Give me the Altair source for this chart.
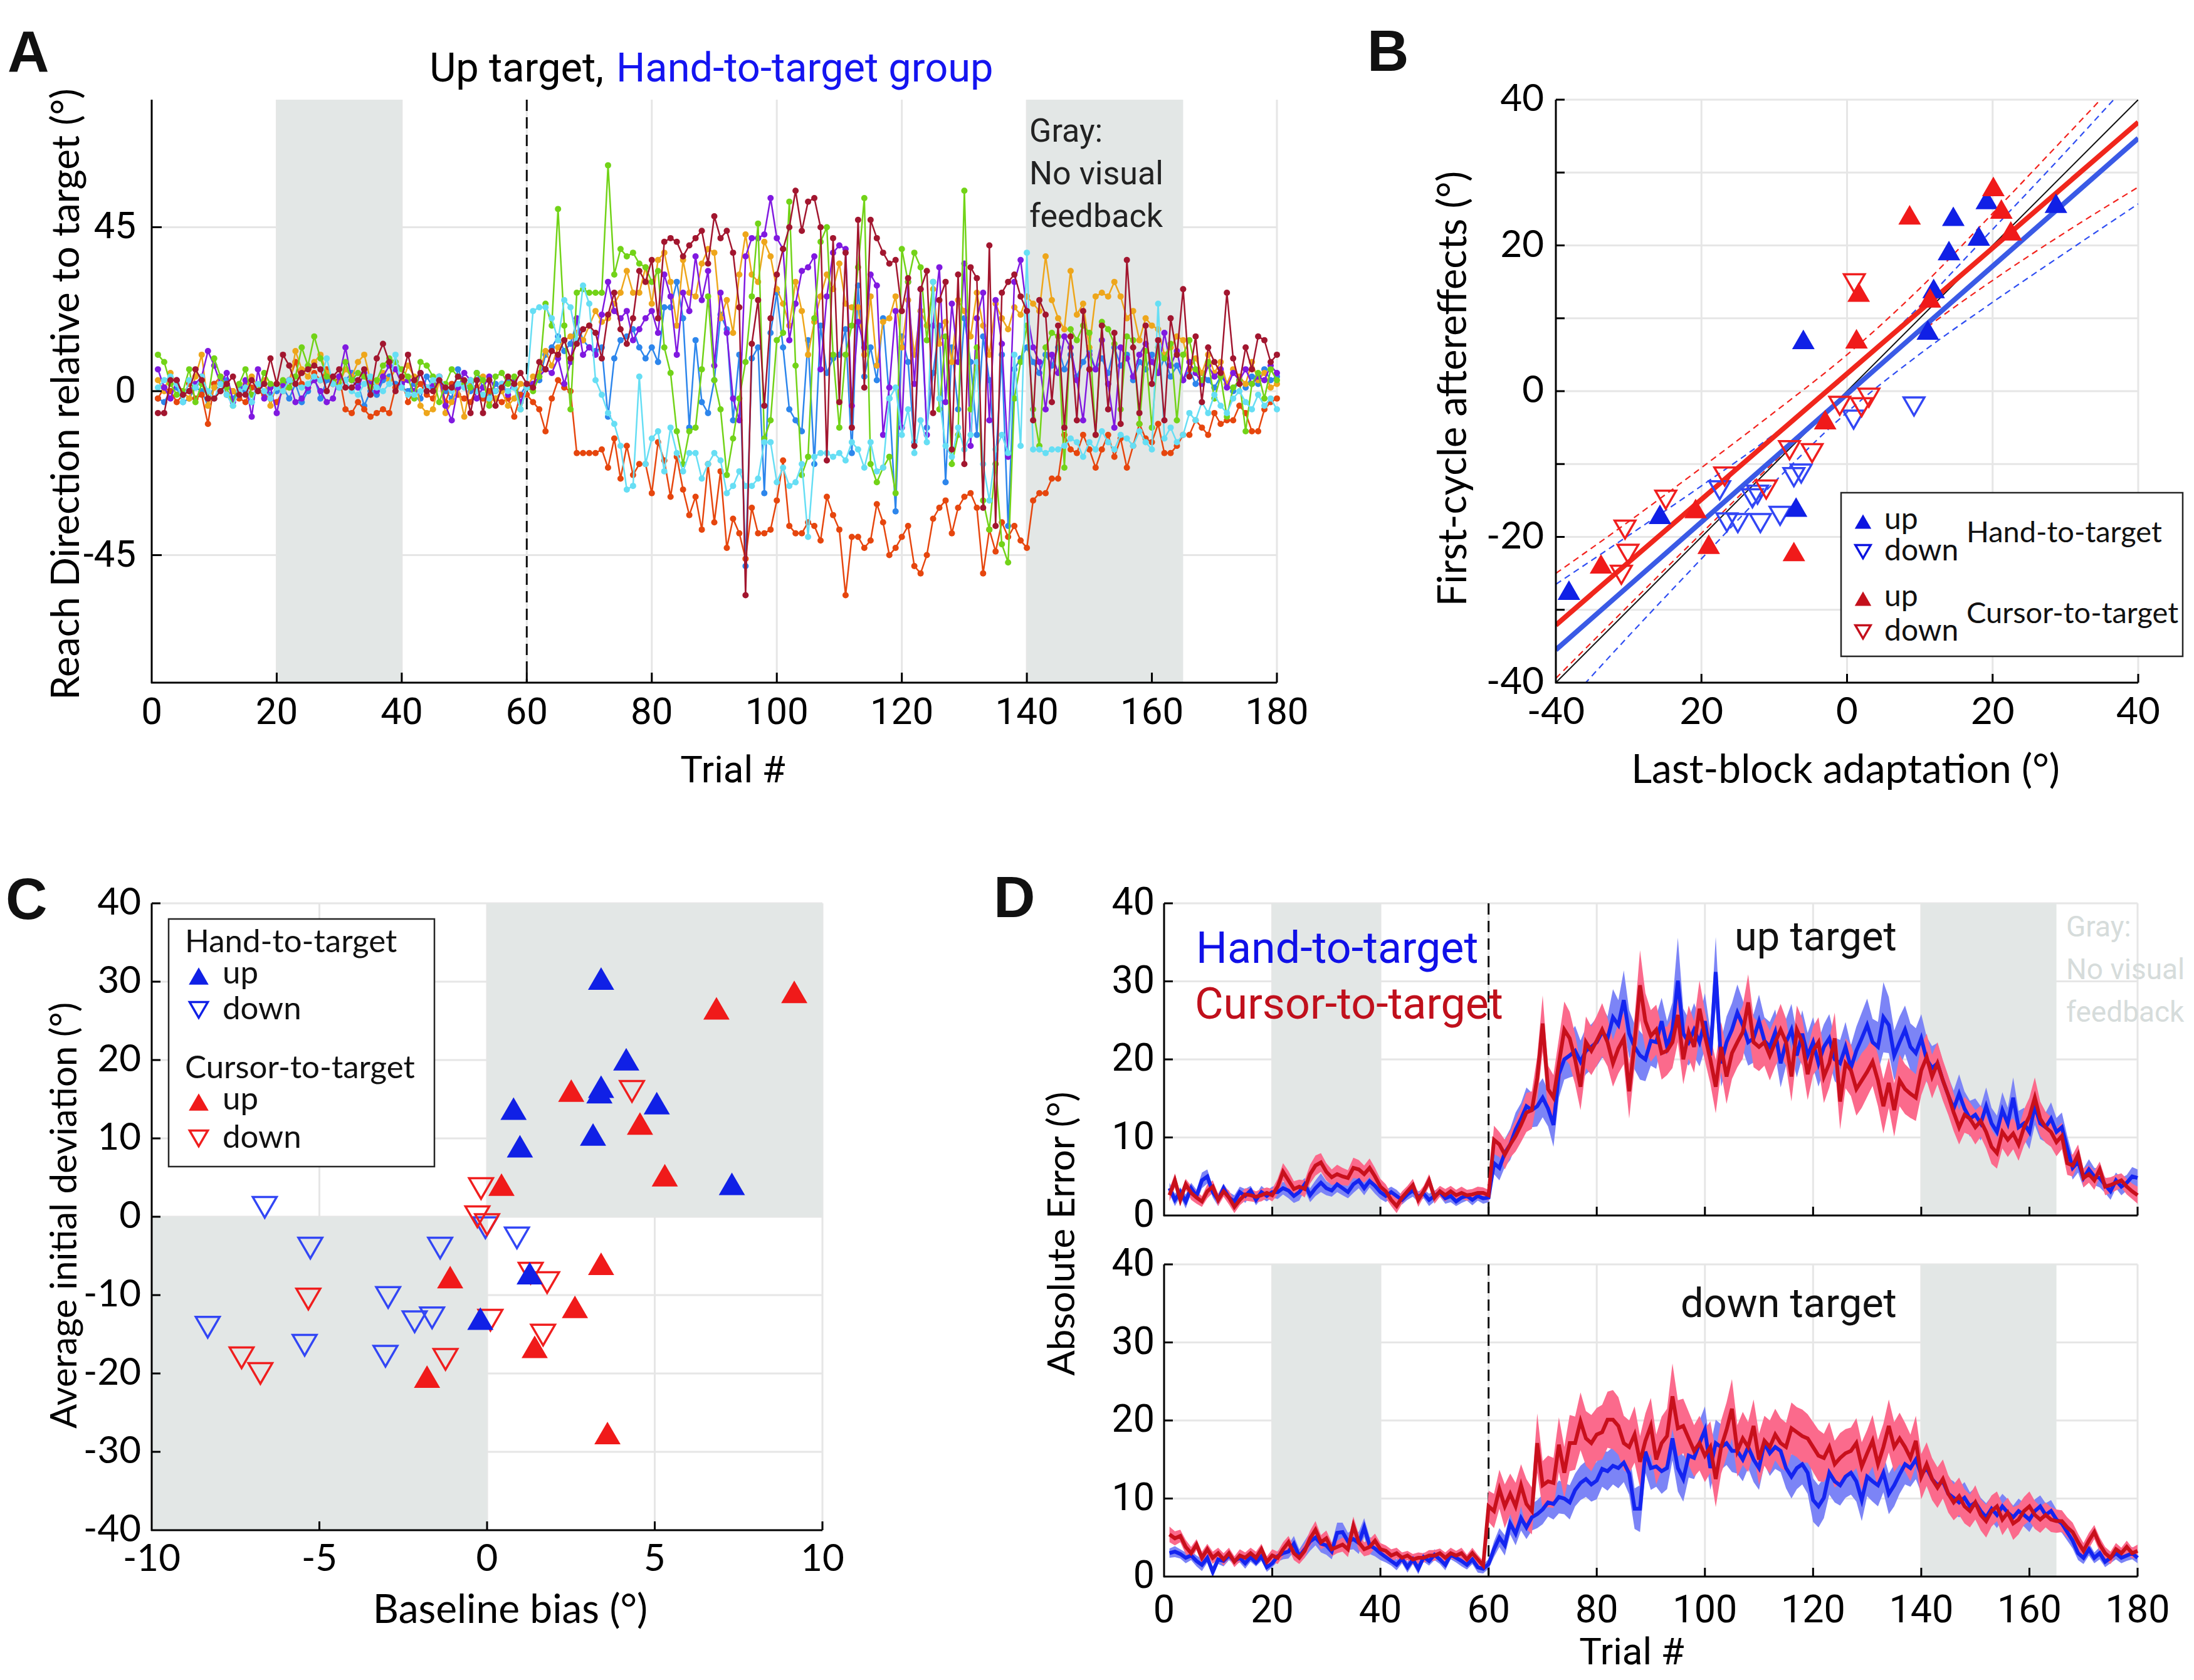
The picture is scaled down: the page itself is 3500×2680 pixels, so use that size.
import altair as alt
import pandas as pd

# ------------------------------------------------------------------ data
TRIALS = list(range(1, 181))

# Panel A: reach direction per trial, 7 participants (up target, hand-to-target group)
A_BLUE = [
    -2, -3, 0, 1, -3, -2, 1, 0, -4, 2,
    0, 3, -2, 1, 0, -3, 1, 2, -1, 0,
    1, -2, 2, -3, 0, 4, -2, 3, 2, 1,
    3, 5, 2, -4, 0, -1, 3, 4, 2, 1,
    0, 2, -2, 4, 1, 3, 0, -2, 6, 2,
    0, 5, 1, -1, 2, 0, 3, 1, -1, 2,
    2, 3, 10, 12, 15, 11, 13, 19, 14, 12,
    11, 12, -7, 9, 14, 15, 17, 12, 9, 12,
    8, 23, 23, 30, 20, -10, 14, -3, -6, 3,
    21, 17, -8, 10, -48, 9, 12, -28, 16, 27,
    12, -5, -8, -11, 14, -20, 18, 5, 9, 10,
    17, -17, 29, 4, 12, 3, 20, -2, -33, 15,
    8, -14, 22, -10, 5, 18, -25, 12, -5, 20,
    8, -12, 15, 3, -20, 10, -37, 6, 9, 12,
    8, 5, 10, 7, 12, 6, 10, 4, 8, 11,
    6, 9, 5, 12, 7, 10, 3, 8, 6, 10,
    5, 9, 4, 7, 3, 6, 2, 5, 3, 1,
    4, 2, 0, 3, 1, 4, 2, 6, 3, 4,
]
A_ORANGE = [
    -2, 1, 0, -3, -1, 2, -2, -1, -9, 2,
    4, -1, 0, -2, -3, 1, 0, -1, -2, -3,
    0, 3, 8, 2, 1, 5, 3, 6, 2, 4,
    -5, -6, -3, -5, -7, -6, -5, -6, 1, 3,
    -3, 0, 2, -1, -2, 4, -3, 2, -1, -2,
    -3, 1, -2, 0, -2, -3, -2, -7, -1, -1,
    -3, -5, -11, -2, 3, 1, 0, -17, -17, -17,
    -17, -16, -21, -13, -24, -15, -23, -20, -20, -28,
    -14, -19, -29, -18, -27, -34, -29, -38, -20, -36,
    -22, -43, -35, -39, -46, -32, -39, -39, -38, -30,
    -19, -37, -39, -39, -36, -37, -41, -29, -34, -38,
    -56, -40, -40, -43, -41, -31, -36, -45, -43, -40,
    -37, -48, -50, -45, -35, -32, -30, -39, -32, -29,
    -28, -32, -50, -38, -44, -36, -40, -37, -41, -43,
    -30, -28, -28, -24, -24, -12, -16, -17, -12, -16,
    -21, -16, -12, -18, -13, -21, -15, -9, -13, -14,
    -9, -17, -17, -15, -12, -12, -8, -10, -12, -6,
    -9, -8, -8, -4, -6, -11, -11, -5, -3, -2,
]
A_YELLOW = [
    3, 0, 5, 2, 0, -2, 4, 10, -4, 1,
    3, 2, 0, -1, 2, 4, 1, 3, -4, 2,
    0, 1, 11, 6, 4, 8, 10, 5, 3, 2,
    6, 4, 8, 10, 3, 2, 5, 3, 6, 2,
    7, 4, -4, -6, -5, 3, -6, -3, 1, -7,
    2, 0, 4, -3, -2, 0, -4, -2, 2, 1,
    4, 5, 11, 7, 12, 14, 15, 16, 14, 18,
    22, 19, 20, 24, 27, 33, 27, 27, 34, 24,
    36, 38, 30, 18, 36, 27, 26, 35, 39, 38,
    20, 25, 16, 32, 43, 32, 30, 41, 37, 28,
    24, 18, 30, 22, 10, 19, 26, 32, 28, 35,
    24, 23, 23, 10, 26, 7, 19, 20, 26, 12,
    25, 10, 22, 18, 28, 13, 19, 8, 25, 22,
    15, 27, 18, 10, 24, 20, 17, 23, 21, 26,
    24, 22, 37, 25, 20, 17, 33, 21, 24, 12,
    26, 27, 26, 30, 26, 20, 22, 14, 20, 18,
    17, 10, 12, 15, 14, 6, 9, 5, 10, 5,
    8, 2, 6, 4, 2, 8, 3, 5, 1, 2,
]
A_PURPLE = [
    6, 1, -2, 3, -1, 0, 2, 4, 11, 7,
    2, 5, -3, -1, 3, -7, 6, -2, 1, -6,
    2, 3, -3, -2, 1, 3, 0, -3, -2, 4,
    12, 3, 1, 5, 2, 0, 4, 7, 6, 2,
    3, 0, 5, 1, 2, 4, -4, -8, 1, 5,
    3, -2, 1, 4, 0, 2, -1, 3, -3, 1,
    2, 4, 6, 5, 9, 2, 8, 20, 10, 12,
    10, 21, 30, 22, 20, 22, 14, 17, 20, 22,
    16, 32, 26, 10, 27, 22, 37, 25, 33, 7,
    27, 16, -2, -8, 37, 42, 42, 43, 53, 42,
    39, 14, 24, 33, 34, 37, 6, 26, 38, 40,
    39, -4, 19, 12, 32, 29, -12, 1, 22, -10,
    30, 2, 28, -12, 18, 34, -3, 24, 8, 35,
    -15, 20, 27, -8, 25, 13, -18, 30, 36, 22,
    12, 8, -5, 10, 5, 15, 12, 3, -8, 10,
    6, 14, 2, -10, 12, 9, 4, 10, 13, 8,
    5, 16, 7, 11, 3, 8, 5, 2, 7, 4,
    6, 1, 5, 3, 6, 2, 4, 3, 7, 5,
]
A_GREEN = [
    10, 8, 2, -1, 0, 6, -3, 2, -2, 9,
    4, 1, -4, 2, 6, -1, 0, 5, 2, 1,
    3, 1, 4, 12, 7, 15, 9, 4, 3, 1,
    8, 3, 5, 4, 1, 3, 7, 9, 8, 6,
    4, -2, 8, 7, 4, -3, 2, 6, 4, 2,
    1, 5, 3, -4, 4, 5, 2, 4, -5, 1,
    0, 4, 24, 18, 50, 18, -5, 27, 28, 27,
    27, 27, 62, 32, 39, 37, 38, 35, 34, 30,
    33, 12, 5, -11, -20, -11, -10, 6, 26, 3,
    -5, -23, -13, -2, 8, 26, 46, -13, -8, 14,
    16, 52, 7, -23, -18, 20, 41, 45, 10, -10,
    10, 18, 34, 53, -20, -25, -21, -18, -28, 39,
    30, 38, 34, 14, 30, -5, 15, -20, -12, 55,
    -5, 12, -30, -38, -20, -42, -47, -2, 8, 18,
    -5, -15, 12, 16, 15, -21, 17, 14, 18, 16,
    -12, 19, 17, 13, -5, 15, 14, -9, 11, -10,
    12, 9, 13, -8, 10, 14, 6, 3, 8, -2,
    4, -7, 1, 3, -11, 2, 5, -2, 6, 3,
]
A_CYAN = [
    1, 3, 4, 2, -3, 3, 1, 4, 0, -2,
    2, -1, -4, 0, 1, -3, 2, 0, -2, 1,
    0, 3, 2, 1, 2, 4, 3, 9, 2, 1,
    3, 0, -1, 2, 4, 1, 0, 2, 10, 1,
    -1, -1, 0, 1, 3, 4, 1, 0, 2, 1,
    3, 0, -1, -2, 0, 2, 0, 1, -5, 1,
    22, 23, 23, 20, 14, 25, 23, 14, 29, 24,
    3, -1, -6, -9, -15, -27, -26, 4, -20, -13,
    -11, -22, -10, -17, -22, -17, -17, -24, -20, -17,
    -19, -28, -26, -22, -26, -26, -24, -14, -14, -25,
    -21, -26, -25, -20, -40, -18, -17, -17, -18, -17,
    -19, -14, -16, -21, -14, -22, -21, -2, 1, -12,
    -5, -17, -8, -14, 30, -2, -15, -18, -10, -16,
    -12, 8, -20, -30, -16, -12, -17, 10, -15, 38,
    -16, -16, -17, -16, -16, -15, -13, -14, -18, -14,
    -16, -11, -14, -16, -12, -13, -15, -11, -14, -16,
    24, -13, -10, -14, -12, -6, -8, -3, -6, -1,
    -4, -6, -2, 0, -3, -5, -1, -4, -2, -5,
]
A_DARKRED = [
    -6, -6, 3, 3, -1, 0, 6, 3, -2, -2,
    0, 2, 4, -1, -1, 3, 0, 2, 9, 2,
    10, 7, 2, 5, 6, 7, 6, 0, 4, 6,
    1, 1, 3, 6, -1, 9, 13, 8, 0, 4,
    10, 3, 5, 0, 0, 3, 1, 1, 4, 3,
    -6, 3, -6, 3, -4, 1, 4, 2, 5, 2,
    1, 8, 6, 11, 10, 14, 9, 13, 17, 18,
    16, 9, 21, 27, 17, 13, 20, 33, 30, 36,
    20, 41, 42, 41, 37, 40, 42, 44, 35, 48,
    42, 44, 38, 23, -56, 13, 25, -4, 20, 32,
    39, 45, 55, 44, 52, 53, 45, -19, 42, -3,
    38, -10, 47, 1, 47, 42, 38, 35, 36, 22,
    31, -15, 28, 33, -6, 25, 30, -16, 32, -20,
    34, 31, -32, 40, -37, 27, 30, 32, 26, 22,
    -8, 25, 21, -3, 18, -10, 15, -8, 22, 6,
    -12, 18, -5, 16, -9, 36, 12, -6, 18, 2,
    14, -8, 20, 10, 28, 4, 15, -3, 12, 8,
    5, 27, 9, 2, 12, 6, 15, 14, 8, 10,
]
A_SERIES = [
    (A_BLUE, "#2d86ec"), (A_ORANGE, "#e6460e"), (A_YELLOW, "#eea61b"),
    (A_PURPLE, "#8019e0"), (A_GREEN, "#72d318"), (A_CYAN, "#66def4"),
    (A_DARKRED, "#a2162f"),
]
A_XTICKS = [0, 20, 40, 60, 80, 100, 120, 140, 160, 180]
A_XLABELS = ["0", "20", "40", "60", "80", "100", "120", "140", "160", "180"]
A_YTICKS = [-45, 0, 45]
A_YLABELS = ["-45", "0", "45"]

# Panel B: last-block adaptation (x) vs first-cycle aftereffects (y)
B_HU_X = [-38.2, -25.7, -6.0, -7.0, 11.9, 11.1, 14.0, 14.6, 18.1, 19.2, 28.7]
B_HU_Y = [-27.3, -16.9, 7.1, -15.9, 14.1, 8.4, 19.3, 24.0, 21.3, 26.3, 25.8]
B_HD_X = [-17.5, -16.5, -15.0, -13.0, -12.3, -11.9, -9.2, -7.3, -6.3, 0.9, 9.2]
B_HD_Y = [-13.6, -18.0, -18.1, -14.7, -14.2, -18.1, -17.1, -11.8, -11.3, -3.9, -2.1]
B_CU_X = [-33.8, -20.8, -19.0, -7.3, -3.0, 1.3, 1.6, 8.6, 11.4, 20.1, 21.2, 22.5]
B_CU_Y = [-23.7, -16.1, -21.0, -22.0, -3.9, 7.2, 13.6, 24.2, 12.8, 28.1, 25.0, 22.0]
B_CD_X = [-30.5, -30.1, -31.0, -24.9, -16.8, -11.1, -7.9, -4.8, -1.0, 2.0, 3.0, 1.0]
B_CD_Y = [-19.0, -22.3, -25.2, -14.9, -11.7, -13.5, -8.1, -8.5, -2.0, -2.2, -0.9, 14.8]
B_FIT_X = [-40, 40]
B_FIT_H = [-35.5, 34.7]
B_FIT_C = [-32.1, 36.9]
B_CI_X = [-40, -30, -20, -10, 0, 10, 20, 30, 40]
B_CI_H_HI = [-26.5, -19.8, -13.0, -5.9, 2.1, 11.7, 22.2, 32.8, 43.7]
B_CI_H_LO = [-44.5, -33.6, -23.0, -12.5, -2.9, 5.1, 12.2, 19.0, 25.7]
B_CI_C_HI = [-25.0, -17.9, -10.5, -2.9, 5.0, 14.1, 24.4, 34.9, 45.5]
B_CI_C_LO = [-39.4, -29.4, -19.5, -9.7, -0.3, 8.0, 15.2, 21.8, 28.0]
B_XTICKS = [-40, -20, 0, 20, 40]
B_XLABELS = ["-40", "20", "0", "20", "40"]      # as printed in the figure
B_YTICKS = [-40, -20, 0, 20, 40]
B_YLABELS = ["-40", "-20", "0", "20", "40"]

# Panel C: baseline bias (x) vs average initial deviation (y)
C_HU_X = [3.4, 4.15, 3.4, 3.35, 5.06, 0.79, 0.98, 3.16, 7.3, 1.27, -0.2]
C_HU_Y = [30.4, 20.1, 16.6, 15.9, 14.5, 13.8, 9.0, 10.5, 4.2, -7.2, -13.0]
C_HD_X = [-6.63, -5.27, -1.4, -0.05, 0.89, -2.95, -2.16, -1.64, -8.33, -5.44, -3.03]
C_HD_Y = [1.2, -4.0, -4.0, -1.4, -2.7, -10.3, -13.4, -12.9, -14.1, -16.4, -17.8]
C_CU_X = [9.16, 6.84, 2.51, 4.56, 5.3, 0.43, 3.4, -1.1, 2.62, 1.42, -1.79, 3.59]
C_CU_Y = [28.7, 26.6, 16.1, 11.9, 5.3, 4.1, -6.0, -7.7, -11.5, -16.6, -20.4, -27.6]
C_CD_X = [4.32, -0.18, -0.29, 0.0, 1.3, 1.79, 0.1, 1.67, -1.24, -5.33, -7.32, -6.76]
C_CD_Y = [16.0, 3.6, 0.0, -1.0, -7.2, -8.4, -13.2, -15.1, -18.2, -10.5, -18.0, -20.0]
C_XTICKS = [-10, -5, 0, 5, 10]
C_XLABELS = ["-10", "-5", "0", "5", "10"]
C_YTICKS = [-40, -30, -20, -10, 0, 10, 20, 30, 40]
C_YLABELS = ["-40", "-30", "-20", "-10", "0", "10", "20", "30", "40"]

# Panel D: absolute error, mean and s.e.m. per trial
D_UP_H = [
    3.5, 2.0, 3.0, 1.8, 3.5, 2.5, 4.5, 5.0, 3.0, 2.0,
    3.5, 2.3, 1.8, 3.0, 2.5, 3.2, 2.0, 3.0, 2.5, 3.0,
    3.0, 3.5, 3.2, 2.5, 3.0, 4.0, 2.6, 3.5, 4.2, 3.5,
    3.2, 4.0, 3.5, 3.0, 4.0, 4.5, 3.5, 4.4, 3.8, 3.0,
    2.5, 3.0, 2.5, 2.0, 2.7, 3.2, 2.4, 2.8, 2.0, 2.5,
    3.0, 2.2, 2.5, 1.8, 2.3, 2.5, 2.0, 2.5, 2.2, 2.3,
    6.7, 6.1, 8.0, 9.1, 11.0, 12.4, 14.0, 13.5, 14.0, 15.1,
    13.7, 11.6, 18.1, 20.0, 20.5, 21.1, 19.7, 21.1, 21.6, 22.2,
    23.5, 22.7, 25.4, 24.4, 27.6, 23.3, 21.6, 20.5, 20.0, 22.4,
    22.2, 24.9, 21.6, 23.8, 30.1, 23.3, 22.2, 23.8, 22.2, 24.9,
    20.5, 31.2, 19.5, 22.2, 23.8, 26.0, 24.4, 22.2, 22.7, 24.9,
    22.4, 21.6, 23.5, 19.5, 22.2, 23.8, 20.5, 23.3, 20.5, 22.2,
    19.5, 21.6, 22.7, 20.0, 19.5, 21.6, 18.9, 21.1, 22.7, 24.4,
    22.2, 21.6, 25.4, 24.4, 20.5, 22.2, 23.8, 21.6, 20.8, 22.7,
    20.0, 18.9, 19.5, 17.3, 15.4, 13.7, 15.6, 13.7, 12.4, 12.9,
    11.8, 14.0, 11.8, 10.7, 13.5, 11.8, 15.1, 11.3, 11.8, 10.7,
    14.0, 11.8, 11.3, 12.4, 10.7, 11.3, 8.6, 6.1, 6.9, 4.8,
    5.9, 5.0, 4.8, 3.9, 3.1, 4.5, 3.7, 4.2, 5.0, 4.8,
]
D_UP_H_SEM = [
    0.7, 0.8, 0.6, 0.9, 0.7, 0.8, 1.0, 0.9, 0.7, 0.8,
    0.6, 0.7, 0.8, 0.7, 0.9, 0.6, 0.7, 0.8, 0.7, 0.7,
    0.9, 0.8, 1.0, 0.9, 1.1, 0.8, 0.9, 1.0, 1.2, 0.9,
    0.8, 1.0, 0.9, 0.8, 1.1, 1.0, 0.9, 0.8, 1.0, 0.9,
    0.8, 0.7, 0.8, 0.6, 0.7, 0.8, 0.7, 0.6, 0.8, 0.7,
    0.6, 0.7, 0.8, 0.6, 0.7, 0.6, 0.7, 0.6, 0.7, 0.6,
    1.4, 1.6, 1.8, 2.0, 2.2, 2.0, 2.4, 2.2, 2.6, 2.5,
    2.3, 2.8, 3.0, 2.6, 2.8, 3.2, 2.7, 3.0, 2.9, 3.1,
    3.3, 2.8, 3.6, 3.2, 3.8, 3.0, 2.9, 3.1, 2.8, 3.2,
    3.4, 3.0, 3.3, 3.5, 5.5, 3.2, 3.0, 3.4, 3.1, 3.6,
    3.2, 4.5, 3.0, 3.3, 3.4, 3.6, 3.2, 3.0, 3.1, 3.4,
    3.0, 3.2, 2.9, 3.1, 3.0, 3.3, 2.8, 3.0, 2.9, 3.2,
    3.0, 2.9, 3.1, 2.8, 3.0, 3.2, 2.9, 3.1, 3.3, 3.4,
    3.0, 3.2, 4.5, 3.6, 3.2, 3.3, 3.1, 3.0, 3.2, 3.1,
    2.9, 2.8, 2.6, 2.5, 2.4, 2.3, 2.5, 2.2, 2.3, 2.1,
    2.2, 2.4, 2.0, 2.1, 2.3, 2.0, 2.6, 2.1, 2.0, 2.2,
    2.4, 2.0, 1.9, 2.1, 1.8, 1.9, 1.6, 1.5, 1.4, 1.2,
    1.3, 1.1, 1.2, 1.0, 1.1, 1.0, 1.1, 1.0, 1.2, 1.1,
]
D_UP_C = [
    2.6, 4.5, 2.0, 4.0, 2.9, 2.3, 1.8, 3.1, 3.7, 2.0,
    3.1, 2.3, 1.1, 2.0, 2.7, 2.6, 2.4, 2.6, 2.9, 2.6,
    3.7, 5.6, 4.5, 3.4, 3.7, 3.4, 5.3, 6.4, 6.8, 5.6,
    4.9, 5.3, 5.0, 4.8, 6.1, 5.9, 5.3, 6.1, 5.0, 3.7,
    3.1, 2.0, 1.2, 2.3, 3.1, 3.9, 2.0, 3.1, 4.5, 2.3,
    3.1, 2.6, 3.1, 2.6, 2.9, 2.6, 2.7, 2.9, 2.9, 2.6,
    9.7, 9.1, 7.8, 9.1, 10.2, 11.6, 13.2, 13.5, 17.6, 24.6,
    16.2, 15.1, 19.5, 23.8, 22.7, 20.0, 16.5, 22.2, 21.1, 22.4,
    23.8, 22.2, 19.5, 21.4, 22.7, 15.9, 22.2, 29.5, 24.9, 23.0,
    23.8, 20.8, 21.1, 22.2, 25.7, 20.0, 23.5, 21.6, 26.5, 23.0,
    20.0, 16.5, 21.6, 17.8, 20.8, 22.2, 23.5, 27.3, 22.2, 21.6,
    22.2, 20.5, 22.2, 23.8, 22.2, 17.8, 23.8, 22.2, 18.1, 21.1,
    22.2, 17.8, 19.5, 22.7, 14.6, 19.5, 18.6, 16.2, 17.3, 18.4,
    19.7, 17.3, 14.0, 17.0, 13.5, 17.3, 16.2, 15.6, 15.1, 18.6,
    20.3, 17.8, 19.5, 17.3, 15.4, 13.2, 11.3, 12.9, 12.4, 11.3,
    12.1, 10.7, 8.8, 8.0, 10.7, 9.7, 10.5, 9.1, 11.3, 12.7,
    15.1, 12.4, 11.3, 10.7, 9.4, 10.2, 6.7, 6.4, 7.8, 4.8,
    5.3, 4.5, 5.9, 3.7, 3.9, 4.2, 4.5, 3.7, 3.1, 2.6,
]
D_UP_C_SEM = [
    0.8, 0.9, 0.8, 0.7, 0.9, 0.8, 0.7, 0.9, 0.8, 0.8,
    0.7, 0.9, 0.8, 0.7, 0.8, 0.8, 0.7, 0.8, 0.7, 0.8,
    1.0, 1.1, 1.2, 1.0, 0.9, 1.1, 1.2, 1.3, 1.2, 1.1,
    1.0, 1.2, 1.1, 1.0, 1.3, 1.2, 1.1, 1.2, 1.1, 1.0,
    0.9, 0.8, 0.9, 0.8, 0.7, 0.8, 0.9, 0.7, 0.8, 0.8,
    0.7, 0.8, 0.7, 0.7, 0.8, 0.7, 0.7, 0.8, 0.7, 0.7,
    1.8, 1.6, 1.9, 1.7, 2.0, 2.2, 2.5, 2.4, 2.8, 3.6,
    3.0, 2.9, 3.2, 3.6, 3.4, 3.2, 3.0, 3.3, 3.1, 3.2,
    3.4, 3.1, 3.0, 3.2, 3.3, 3.5, 3.2, 4.5, 3.6, 3.3,
    3.2, 3.4, 3.1, 3.3, 3.5, 3.2, 3.4, 3.3, 3.6, 3.2,
    3.1, 3.4, 3.2, 3.5, 3.3, 3.2, 3.4, 3.6, 3.2, 3.1,
    3.0, 3.2, 3.1, 3.3, 3.0, 3.2, 3.1, 3.0, 3.3, 3.1,
    3.2, 3.4, 3.1, 3.3, 3.6, 3.2, 3.3, 3.4, 3.5, 3.2,
    3.1, 3.3, 3.5, 3.2, 3.4, 3.3, 3.2, 3.1, 3.0, 3.2,
    3.0, 2.8, 2.7, 2.6, 2.5, 2.4, 2.2, 2.3, 2.1, 2.2,
    2.0, 2.1, 2.2, 2.0, 2.1, 2.2, 2.0, 2.1, 2.3, 2.4,
    2.6, 2.2, 2.0, 1.9, 1.8, 1.7, 1.5, 1.4, 1.3, 1.2,
    1.1, 1.2, 1.0, 1.1, 1.0, 1.0, 0.9, 1.0, 1.0, 1.1,
]
D_DN_H = [
    3.0, 3.2, 2.9, 2.4, 2.7, 2.0, 1.5, 2.4, 0.6, 2.2,
    2.0, 2.7, 2.0, 2.4, 1.7, 2.5, 1.8, 2.6, 1.2, 1.7,
    2.6, 3.0, 3.2, 4.2, 2.6, 3.5, 4.5, 5.0, 4.2, 4.0,
    3.2, 5.6, 5.7, 4.5, 4.8, 4.3, 6.3, 4.0, 3.6, 3.0,
    2.5, 2.0, 1.5, 2.3, 1.2, 2.2, 1.0, 2.5, 2.0, 2.8,
    2.2, 1.5, 2.8, 2.4, 2.0, 1.5, 2.2, 1.2, 1.0, 1.6,
    3.5, 5.0, 4.0, 6.8, 5.5, 7.5, 6.3, 7.6, 8.0, 8.6,
    9.5, 9.3, 10.2, 10.0, 9.5, 11.1, 12.0, 12.5, 11.8, 12.3,
    13.8, 13.5, 14.2, 13.9, 14.6, 13.2, 8.7, 8.7, 16.0, 13.9,
    14.1, 13.5, 13.9, 17.7, 13.9, 12.5, 15.5, 15.2, 17.1, 18.8,
    13.9, 17.1, 16.6, 17.1, 16.1, 16.1, 15.0, 16.6, 15.0, 13.9,
    17.1, 15.8, 16.6, 16.1, 13.9, 12.8, 13.9, 14.4, 13.3, 9.8,
    9.0, 10.1, 13.3, 12.2, 11.7, 12.8, 13.3, 12.2, 9.8, 12.8,
    12.2, 11.7, 13.3, 10.6, 11.7, 13.1, 14.4, 13.9, 15.0, 13.1,
    13.9, 12.5, 11.7, 12.2, 10.6, 10.1, 9.5, 10.1, 9.0, 9.5,
    8.4, 7.6, 8.7, 7.9, 9.0, 8.2, 7.6, 8.4, 7.9, 7.3,
    8.4, 9.0, 7.9, 8.4, 7.3, 6.8, 5.7, 4.6, 3.0, 2.4,
    3.5, 2.4, 3.0, 1.9, 2.4, 3.0, 2.4, 2.7, 3.0, 2.4,
]
D_DN_H_SEM = [
    0.6, 0.7, 0.6, 0.7, 0.6, 0.7, 0.8, 0.6, 0.7, 0.6,
    0.7, 0.6, 0.5, 0.6, 0.7, 0.6, 0.5, 0.6, 0.6, 0.5,
    0.7, 0.8, 0.9, 1.0, 0.9, 1.1, 1.2, 1.0, 1.1, 1.2,
    1.0, 1.3, 1.2, 1.1, 1.3, 1.4, 1.2, 1.1, 1.0, 0.9,
    0.7, 0.6, 0.7, 0.6, 0.7, 0.6, 0.7, 0.6, 0.6, 0.7,
    0.6, 0.7, 0.6, 0.6, 0.7, 0.6, 0.6, 0.7, 0.6, 0.6,
    1.0, 1.2, 1.3, 1.4, 1.5, 1.6, 1.5, 1.7, 1.8, 1.9,
    1.8, 2.0, 2.1, 2.0, 2.2, 2.1, 2.2, 2.3, 2.2, 2.4,
    2.3, 2.5, 2.4, 2.6, 2.5, 2.7, 2.6, 3.0, 2.7, 2.8,
    2.6, 2.9, 2.7, 2.8, 3.0, 2.9, 2.8, 2.7, 2.9, 3.0,
    2.8, 3.0, 2.9, 2.8, 2.7, 2.9, 2.8, 2.7, 2.9, 2.8,
    2.7, 2.9, 2.8, 2.7, 2.6, 2.8, 2.7, 2.6, 2.7, 2.8,
    2.7, 2.6, 2.8, 2.7, 2.6, 2.7, 2.8, 2.6, 2.7, 2.5,
    2.6, 2.7, 2.5, 2.6, 2.7, 2.5, 2.6, 2.4, 2.5, 2.4,
    2.3, 2.2, 2.1, 2.2, 2.0, 2.1, 1.9, 2.0, 1.8, 1.9,
    1.7, 1.8, 1.6, 1.7, 1.6, 1.7, 1.5, 1.6, 1.5, 1.6,
    1.5, 1.4, 1.5, 1.4, 1.3, 1.2, 1.1, 1.0, 0.9, 0.8,
    0.8, 0.7, 0.8, 0.7, 0.7, 0.8, 0.7, 0.7, 0.8, 0.7,
]
D_DN_C = [
    5.4, 4.9, 5.2, 3.8, 3.0, 4.1, 2.4, 3.5, 2.4, 3.0,
    2.2, 3.0, 1.9, 2.7, 2.4, 3.0, 2.4, 3.5, 1.9, 2.7,
    2.4, 3.5, 4.4, 3.0, 2.4, 3.3, 4.9, 6.0, 4.4, 4.9,
    3.5, 3.8, 4.1, 3.5, 6.5, 4.4, 3.5, 3.8, 4.6, 3.5,
    3.3, 2.7, 3.0, 2.4, 2.7, 2.2, 2.4, 2.4, 2.7, 2.7,
    3.0, 2.4, 3.0, 2.7, 3.0, 2.2, 3.0, 2.2, 1.4, 9.0,
    8.4, 11.2, 9.0, 10.6, 9.0, 11.7, 9.3, 8.4, 17.1, 11.7,
    12.2, 12.0, 16.9, 13.3, 17.1, 17.1, 19.9, 17.7, 17.1, 18.2,
    18.5, 20.1, 20.1, 19.3, 17.1, 16.6, 18.2, 14.7, 17.4, 19.3,
    15.0, 17.1, 18.0, 23.1, 19.0, 19.3, 17.7, 16.1, 17.1, 15.5,
    16.6, 12.5, 16.6, 18.8, 21.5, 16.1, 17.7, 16.6, 19.3, 15.0,
    17.4, 16.6, 18.2, 17.1, 16.6, 19.0, 18.5, 18.0, 17.7, 16.6,
    15.5, 15.2, 16.6, 14.4, 15.2, 15.8, 16.1, 17.1, 14.1, 15.8,
    17.4, 14.4, 16.6, 19.3, 16.6, 17.7, 16.6, 15.2, 17.4, 12.8,
    14.4, 12.5, 11.4, 12.5, 10.6, 9.5, 10.3, 9.0, 8.4, 9.5,
    7.9, 7.1, 8.4, 9.0, 7.3, 8.2, 6.8, 7.3, 8.4, 9.0,
    7.9, 7.3, 7.9, 7.3, 7.1, 7.1, 6.3, 5.7, 4.4, 3.3,
    4.6, 5.7, 4.1, 3.0, 2.4, 3.5, 3.0, 3.8, 3.0, 3.3,
]
D_DN_C_SEM = [
    1.0, 0.9, 0.8, 0.9, 0.8, 0.7, 0.8, 0.7, 0.8, 0.7,
    0.8, 0.7, 0.7, 0.8, 0.7, 0.7, 0.8, 0.7, 0.7, 0.8,
    0.8, 0.9, 0.8, 0.9, 0.8, 0.9, 1.0, 1.1, 0.9, 1.0,
    0.9, 0.8, 0.9, 1.0, 1.2, 1.0, 0.9, 1.0, 0.9, 0.8,
    0.7, 0.8, 0.7, 0.7, 0.6, 0.7, 0.7, 0.6, 0.7, 0.7,
    0.6, 0.7, 0.7, 0.6, 0.7, 0.6, 0.7, 0.6, 0.6, 2.0,
    2.2, 2.5, 2.8, 2.6, 3.0, 2.7, 3.2, 3.0, 3.8, 3.1,
    3.3, 3.2, 3.5, 3.3, 3.6, 3.4, 3.7, 3.5, 3.6, 3.4,
    3.5, 3.6, 3.8, 3.7, 3.5, 3.4, 3.6, 3.3, 3.5, 3.6,
    3.2, 3.4, 3.5, 4.2, 3.6, 3.5, 3.4, 3.3, 3.5, 3.4,
    3.3, 3.6, 3.4, 3.5, 3.8, 3.3, 3.4, 3.2, 3.4, 3.3,
    3.2, 3.4, 3.3, 3.2, 3.1, 3.3, 3.2, 3.4, 3.1, 3.2,
    3.3, 3.1, 3.2, 3.0, 3.2, 3.1, 3.0, 3.2, 3.1, 3.0,
    3.3, 3.1, 3.0, 3.4, 3.2, 3.3, 3.1, 3.0, 3.2, 2.9,
    2.8, 2.7, 2.6, 2.5, 2.4, 2.3, 2.4, 2.2, 2.1, 2.2,
    2.0, 2.1, 2.0, 1.9, 2.0, 1.9, 2.1, 1.9, 1.8, 1.9,
    1.8, 1.7, 1.6, 1.6, 1.5, 1.4, 1.3, 1.2, 1.1, 1.0,
    1.0, 0.9, 0.9, 0.8, 0.8, 0.8, 0.7, 0.8, 0.7, 0.8,
]
D_XTICKS = [0, 20, 40, 60, 80, 100, 120, 140, 160, 180]
D_XLABELS = ["0", "20", "40", "60", "80", "100", "120", "140", "160", "180"]
D_YTICKS = [0, 10, 20, 30, 40]
D_YLABELS = ["0", "10", "20", "30", "40"]

for _lst in [s for s, _ in A_SERIES] + [D_UP_H, D_UP_H_SEM, D_UP_C, D_UP_C_SEM,
                                        D_DN_H, D_DN_H_SEM, D_DN_C, D_DN_C_SEM]:
    assert len(_lst) == 180, len(_lst)

# ------------------------------------------------------------------ style
FN = "Roboto"            # condensed-looking labels (panels A, D)
FW = "Lato"              # regular labels (panels B, C)
FB = "Liberation Sans"   # panel letters
BLACK = "#000000"
GRID = "#e6e6e6"
SHADE = "#e3e7e6"
ONE = pd.DataFrame({"k": [0]})


def sc(dom):
    return alt.Scale(domain=dom, nice=False, zero=False)


def text(s, x, y, size, font, color=BLACK, align="left", baseline="alphabetic",
         angle=None, weight="normal"):
    kw = dict(text=s, font=font, fontSize=size, color=color, align=align,
              baseline=baseline, fontWeight=weight)
    if angle is not None:
        kw["angle"] = angle
    return alt.Chart(ONE).mark_text(**kw).encode(x=alt.value(x), y=alt.value(y))


def vgrid(vals, dom, color=GRID):
    return alt.Chart(pd.DataFrame({"v": vals})).mark_rule(color=color, strokeWidth=3).encode(
        x=alt.X("v:Q", scale=sc(dom), axis=None))


def hgrid(vals, dom, color=GRID):
    return alt.Chart(pd.DataFrame({"v": vals})).mark_rule(color=color, strokeWidth=3).encode(
        y=alt.Y("v:Q", scale=sc(dom), axis=None))


def xticks(vals, dom, H, L=16):
    return alt.Chart(pd.DataFrame({"v": vals})).mark_rule(color=BLACK, strokeWidth=3).encode(
        x=alt.X("v:Q", scale=sc(dom), axis=None), y=alt.value(H), y2=alt.value(H - L))


def yticks(vals, dom, L=16):
    return alt.Chart(pd.DataFrame({"v": vals})).mark_rule(color=BLACK, strokeWidth=3).encode(
        y=alt.Y("v:Q", scale=sc(dom), axis=None), x=alt.value(0), x2=alt.value(L))


def xlabels(vals, labels, dom, H, pad, font, size):
    df = pd.DataFrame({"v": vals, "s": labels})
    return alt.Chart(df).mark_text(font=font, fontSize=size, color=BLACK, align="center",
                                   baseline="top").encode(
        x=alt.X("v:Q", scale=sc(dom), axis=None), y=alt.value(H + pad), text="s:N")


def ylabels(vals, labels, dom, pad, font, size):
    df = pd.DataFrame({"v": vals, "s": labels})
    return alt.Chart(df).mark_text(font=font, fontSize=size, color=BLACK, align="right",
                                   baseline="middle").encode(
        y=alt.Y("v:Q", scale=sc(dom), axis=None), x=alt.value(-pad), text="s:N")


def frame(W, H):
    left = alt.Chart(ONE).mark_rule(color=BLACK, strokeWidth=3).encode(
        x=alt.value(0), y=alt.value(0), y2=alt.value(H + 1))
    bottom = alt.Chart(ONE).mark_rule(color=BLACK, strokeWidth=3).encode(
        x=alt.value(-1), x2=alt.value(W), y=alt.value(H))
    return [left, bottom]


def xbands(starts, ends, dom, H):
    df = pd.DataFrame({"a": starts, "b": ends})
    return alt.Chart(df).mark_rect(color=SHADE).encode(
        x=alt.X("a:Q", scale=sc(dom), axis=None), x2="b:Q", y=alt.value(0), y2=alt.value(H))


def dashed_at(v, dom):
    return alt.Chart(pd.DataFrame({"v": [v]})).mark_rule(
        color="#111111", strokeWidth=3, strokeDash=[18, 10]).encode(
        x=alt.X("v:Q", scale=sc(dom), axis=None))


def tri(xs, ys, xdom, ydom, color, up, size):
    df = pd.DataFrame({"x": xs, "y": ys})
    if up:
        m = alt.Chart(df).mark_point(shape="triangle-up", filled=True, size=size,
                                     color=color, opacity=1, strokeWidth=0)
    else:
        m = alt.Chart(df).mark_point(shape="triangle-down", filled=False, size=size,
                                     color=color, opacity=1, strokeWidth=3.5)
    return m.encode(x=alt.X("x:Q", scale=sc(xdom), axis=None),
                    y=alt.Y("y:Q", scale=sc(ydom), axis=None))


def sym(x, y, color, up, size):
    if up:
        m = alt.Chart(ONE).mark_point(shape="triangle-up", filled=True, size=size,
                                      color=color, opacity=1, strokeWidth=0)
    else:
        m = alt.Chart(ONE).mark_point(shape="triangle-down", filled=False, size=size,
                                      color=color, opacity=1, strokeWidth=3.5)
    return m.encode(x=alt.value(x), y=alt.value(y))


def box(x0, y0, x1, y1):
    return alt.Chart(ONE).mark_rect(fill="white", stroke="#262626", strokeWidth=2.5).encode(
        x=alt.value(x0), x2=alt.value(x1), y=alt.value(y0), y2=alt.value(y1))


def line_xy(xs, ys, xdom, ydom, color, width, dash=None, interp="linear"):
    df = pd.DataFrame({"x": xs, "y": ys})
    kw = dict(color=color, strokeWidth=width, clip=True, interpolate=interp)
    if dash:
        kw["strokeDash"] = dash
    return alt.Chart(df).mark_line(**kw).encode(
        x=alt.X("x:Q", scale=sc(xdom), axis=None), y=alt.Y("y:Q", scale=sc(ydom), axis=None))


# ------------------------------------------------------------------ panel A
AW, AH = 1795, 930
AX, AY = [0, 180], [-80, 80]
a_layers = [
    # invisible anchor fixing the page origin
    alt.Chart(ONE).mark_rect(opacity=0).encode(
        x=alt.value(-229), x2=alt.value(-228), y=alt.value(-150), y2=alt.value(-149)),
    vgrid(A_XTICKS[1:], AX),
    hgrid(A_YTICKS, AY),
    xbands([20, 140], [40, 165], AX, AH),
    dashed_at(60, AX),
]
for vals, col in A_SERIES:
    df = pd.DataFrame({"t": TRIALS, "v": vals})
    base = alt.Chart(df).encode(x=alt.X("t:Q", scale=sc(AX), axis=None),
                                y=alt.Y("v:Q", scale=sc(AY), axis=None))
    a_layers += [base.mark_line(color=col, strokeWidth=2.5),
                 base.mark_circle(color=col, size=100, opacity=1)]
a_layers += frame(AW, AH) + [
    xticks(A_XTICKS[1:], AX, AH),
    yticks(A_YTICKS, AY),
    xlabels(A_XTICKS, A_XLABELS, AX, AH, 19, FN, 60),
    ylabels(A_YTICKS, A_YLABELS, AY, 25, FN, 60),
    text("Up target,", 721, -29, 65, FN, align="right"),
    text("Hand-to-target group", 741, -29, 65, FN, color="#1414f0"),
    text("Gray:", 1400, 67, 52, FN, color="#222222"),
    text("No visual", 1400, 135, 52, FN, color="#222222"),
    text("feedback", 1400, 203, 52, FN, color="#222222"),
    text("Reach Direction relative to target (°)", -135, 470, 62, FW,
         align="center", baseline="middle", angle=270),
    text("Trial #", 927, 1071, 60, FN, align="center", baseline="middle"),
    text("A", -230, -45, 92, FB, weight="bold", color="#111111"),
]
panel_a = alt.layer(*a_layers).properties(width=AW, height=AH)

# ------------------------------------------------------------------ panel B
BW, BH = 929, 930
BD = [-40, 40]
b_layers = [
    vgrid([-20, 0, 20, 40], BD),
    hgrid([-30, -20, -10, 0, 10, 20, 30, 40], BD),
    line_xy([-40, 40], [-40, 40], BD, BD, "#111111", 2),
    line_xy(B_CI_X, B_CI_C_HI, BD, BD, "#f2231e", 2.2, dash=[10, 7], interp="monotone"),
    line_xy(B_CI_X, B_CI_C_LO, BD, BD, "#f2231e", 2.2, dash=[10, 7], interp="monotone"),
    line_xy(B_CI_X, B_CI_H_HI, BD, BD, "#2f4ef2", 2.2, dash=[10, 7], interp="monotone"),
    line_xy(B_CI_X, B_CI_H_LO, BD, BD, "#2f4ef2", 2.2, dash=[10, 7], interp="monotone"),
    line_xy(B_FIT_X, B_FIT_C, BD, BD, "#f0261c", 8),
    line_xy(B_FIT_X, B_FIT_H, BD, BD, "#3a5ae6", 8),
    tri(B_HD_X, B_HD_Y, BD, BD, "#3246f5", False, 1100),
    tri(B_CD_X, B_CD_Y, BD, BD, "#f01e1e", False, 1100),
    tri(B_HU_X, B_HU_Y, BD, BD, "#1020e6", True, 1300),
    tri(B_CU_X, B_CU_Y, BD, BD, "#f01a1a", True, 1300),
] + frame(BW, BH) + [
    xticks([-20, 0, 20, 40], BD, BH, 14),
    yticks(list(range(-30, 41, 10)), BD, 14),
    xlabels(B_XTICKS, B_XLABELS, BD, BH, 19, FW, 60),
    ylabels(B_YTICKS, B_YLABELS, BD, 19, FW, 60),
    box(455, 627, 1000, 888),
    sym(490, 673, "#0c14e0", True, 700),
    sym(490, 721, "#0c14e0", False, 600),
    sym(490, 796, "#c4101c", True, 700),
    sym(490, 849, "#c4101c", False, 600),
    text("up", 524, 671, 48, FW, baseline="middle", color="#111111"),
    text("down", 524, 721, 48, FW, baseline="middle", color="#111111"),
    text("up", 524, 794, 48, FW, baseline="middle", color="#111111"),
    text("down", 524, 849, 48, FW, baseline="middle", color="#111111"),
    text("Hand-to-target", 655, 692, 47, FW, baseline="middle", color="#111111"),
    text("Cursor-to-target", 655, 821, 47, FW, baseline="middle", color="#111111"),
    text("First-cycle aftereffects (°)", -162, 461, 63, FW,
         align="center", baseline="middle", angle=270),
    text("Last-block adaptation (°)", 462, 1071, 64, FW, align="center", baseline="middle"),
    text("B", -301, -46, 92, FB, weight="bold", color="#111111"),
]
panel_b = alt.layer(*b_layers).properties(width=BW, height=BH)

# ------------------------------------------------------------------ panel C
CW, CH = 1070, 1000
CXD, CYD = [-10, 10], [-40, 40]
c_shade = pd.DataFrame({"x0": [-10, 0], "x1": [0, 10], "y0": [-40, 0], "y1": [0, 40]})
c_layers = [
    vgrid([-5, 0, 5, 10], CXD),
    hgrid(list(range(-30, 41, 10)), CYD),
    alt.Chart(c_shade).mark_rect(color=SHADE).encode(
        x=alt.X("x0:Q", scale=sc(CXD), axis=None), x2="x1:Q",
        y=alt.Y("y0:Q", scale=sc(CYD), axis=None), y2="y1:Q"),
    tri(C_HD_X, C_HD_Y, CXD, CYD, "#3246f5", False, 1450),
    tri(C_CD_X, C_CD_Y, CXD, CYD, "#f01e1e", False, 1450),
    tri(C_HU_X, C_HU_Y, CXD, CYD, "#1020e6", True, 1750),
    tri(C_CU_X, C_CU_Y, CXD, CYD, "#f01a1a", True, 1750),
] + frame(CW, CH) + [
    xticks([-5, 0, 5, 10], CXD, CH, 14),
    yticks(list(range(-30, 41, 10)), CYD, 14),
    xlabels(C_XTICKS, C_XLABELS, CXD, CH, 18, FW, 60),
    ylabels(C_YTICKS, C_YLABELS, CYD, 17, FW, 60),
    box(27, 25, 451, 420),
    text("Hand-to-target", 53, 63, 51, FW, baseline="middle", color="#111111"),
    sym(75, 116, "#1020e6", True, 1000),
    text("up", 113, 113, 51, FW, baseline="middle", color="#111111"),
    sym(75, 170, "#1020e6", False, 850),
    text("down", 113, 170, 51, FW, baseline="middle", color="#111111"),
    text("Cursor-to-target", 53, 264, 51, FW, baseline="middle", color="#111111"),
    sym(75, 317, "#f01a1a", True, 1000),
    text("up", 113, 314, 51, FW, baseline="middle", color="#111111"),
    sym(75, 375, "#f01e1e", False, 850),
    text("down", 113, 375, 51, FW, baseline="middle", color="#111111"),
    text("Average initial deviation (°)", -137, 498, 58, FW,
         align="center", baseline="middle", angle=270),
    text("Baseline bias (°)", 572, 1129, 64, FW, align="center", baseline="middle"),
    text("C", -233, 25, 92, FB, weight="bold", color="#111111"),
]
panel_c = alt.layer(*c_layers).properties(width=CW, height=CH)

# ------------------------------------------------------------------ panel D
DW, DH = 1553, 498
DXD, DYD = [0, 180], [0, 40]


def d_panel(mh, sh, mc, scm, bottom, extra):
    dh = pd.DataFrame({"t": TRIALS, "m": mh,
                       "lo": [m - s for m, s in zip(mh, sh)],
                       "hi": [m + s for m, s in zip(mh, sh)]})
    dc = pd.DataFrame({"t": TRIALS, "m": mc,
                       "lo": [m - s for m, s in zip(mc, scm)],
                       "hi": [m + s for m, s in zip(mc, scm)]})
    X = alt.X("t:Q", scale=sc(DXD), axis=None)

    def band(df, col):
        return alt.Chart(df).mark_area(color=col, opacity=1).encode(
            x=X, y=alt.Y("lo:Q", scale=sc(DYD), axis=None), y2="hi:Q")

    def mline(df, col):
        return alt.Chart(df).mark_line(color=col, strokeWidth=6).encode(
            x=X, y=alt.Y("m:Q", scale=sc(DYD), axis=None))

    layers = [
        vgrid(D_XTICKS[1:], DXD),
        hgrid(D_YTICKS[1:], DYD),
        xbands([20, 140], [40, 165], DXD, DH),
        dashed_at(60, DXD),
        band(dh, "#7c84f6"),
        band(dc, "#fb6a8c"),
        mline(dh, "#1424f0"),
        mline(dc, "#c8101c"),
    ] + frame(DW, DH) + [
        xticks(D_XTICKS[1:], DXD, DH, 14),
        yticks(D_YTICKS[1:], DYD, 14),
        ylabels(D_YTICKS, D_YLABELS, DYD, 15, FN, 61),
    ]
    if bottom:
        layers.append(xlabels(D_XTICKS, D_XLABELS, DXD, DH, 25, FN, 61))
    return alt.layer(*(layers + extra)).properties(width=DW, height=DH)


d1 = d_panel(D_UP_H, D_UP_H_SEM, D_UP_C, D_UP_C_SEM, False, [
    text("Hand-to-target", 51, 95, 70, FN, color="#1010e8"),
    text("Cursor-to-target", 49, 184, 70, FN, color="#c0101c"),
    text("up target", 910, 75, 65, FN, color="#111111"),
    text("Gray:", 1439, 53, 46, FN, color="#d6dcdb"),
    text("No visual", 1439, 121, 46, FN, color="#d6dcdb"),
    text("feedback", 1439, 189, 46, FN, color="#d6dcdb"),
    text("Absolute Error (°)", -161, 527, 60, FW, align="center", baseline="middle", angle=270),
    text("D", -272, 22, 92, FB, weight="bold", color="#111111"),
])
d2 = d_panel(D_DN_H, D_DN_H_SEM, D_DN_C, D_DN_C_SEM, True, [
    text("down target", 824, 84, 65, FN, color="#111111"),
    text("Trial #", 746, 638, 60, FN, align="center"),
])
panel_d = alt.vconcat(d1, d2, spacing=78, bounds="flush")

# ------------------------------------------------------------------ layout
# (with flush bounds a nested row counts as zero height, so the row spacing
#  below is the full distance from the top of row 1 to the top of row 2)
row1 = alt.hconcat(panel_a, panel_b, spacing=445, bounds="flush")
row2 = alt.hconcat(panel_c, panel_d, spacing=545, bounds="flush")
chart = (alt.vconcat(row1, row2, spacing=1282, bounds="flush")
         .properties(padding=0, background="white")
         .configure_view(stroke="transparent"))

chart.save("out.html", embed_options={"renderer": "svg", "actions": False})
